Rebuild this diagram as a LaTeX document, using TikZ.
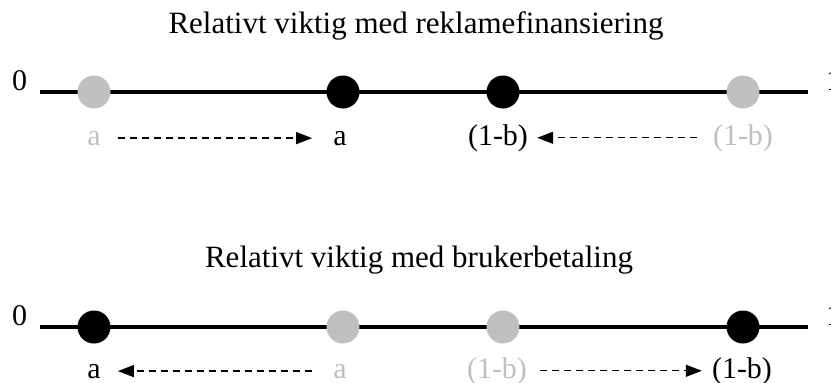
\documentclass[tikz,border=0pt]{standalone}
\usepackage{fontspec}
\setmainfont{Liberation Serif}
\usetikzlibrary{arrows.meta}
\definecolor{lgray}{RGB}{192,192,192}
\begin{document}
\begin{tikzpicture}[x=1pt,y=-1pt,
  axis/.style={line width=4pt},
  dotblack/.style={circle,fill=black,minimum size=33pt,inner sep=0pt},
  dotgray/.style={circle,fill=lgray,minimum size=33pt,inner sep=0pt},
  lab/.style={anchor=base,inner sep=0pt,font=\fontsize{30}{36}\selectfont},
  glab/.style={lab,text=lgray},
  ttl/.style={anchor=base,inner sep=0pt,font=\fontsize{31}{37}\selectfont},
  mv/.style={line width=1.3pt,dash pattern=on 7pt off 5pt,-{Triangle[length=16pt,width=12pt]}}
]
\useasboundingbox (0,0) rectangle (831,383);
% ---- top
\node[ttl] (t1) at (416,33) {Relativt viktig med reklamefinansiering};
\node[lab,anchor=base west] (z1) at (12,90) {0};
\node[lab,anchor=base west] (o1) at (826,90) {1};
\coordinate (l1s) at (40,92);
\coordinate (l1e) at (808,92);
\draw[axis] (l1s) -- (l1e);
\node[dotgray] (c11) at (94,92) {};
\node[dotblack] (c12) at (343,92) {};
\node[dotblack] (c13) at (503,92) {};
\node[dotgray] (c14) at (743,92) {};
\node[glab] (a1g) at (94,145) {a};
\node[lab] (a1b) at (340,145) {a};
\node[lab] (b1b) at (498,145) {(1-b)};
\node[glab] (b1g) at (743,145) {(1-b)};
\draw[mv,shorten <=17pt,shorten >=21pt] (a1g.east) -- (a1b.west);
\draw[mv,shorten <=16pt,shorten >=9pt] (b1g.west) -- (b1b.east);
% ---- bottom
\node[ttl] (t2) at (419,267) {Relativt viktig med brukerbetaling};
\node[lab,anchor=base west] (z2) at (12,325) {0};
\node[lab,anchor=base west] (o2) at (826,325) {1};
\coordinate (l2s) at (40,327);
\coordinate (l2e) at (808,327);
\draw[axis] (l2s) -- (l2e);
\node[dotblack] (c21) at (94,327) {};
\node[dotgray] (c22) at (343,327) {};
\node[dotgray] (c23) at (503,327) {};
\node[dotblack] (c24) at (743,327) {};
\node[lab] (a2b) at (94,378) {a};
\node[glab] (a2g) at (340,378) {a};
\node[glab] (b2g) at (497,378) {(1-b)};
\node[lab] (b2b) at (742,378) {(1-b)};
\draw[mv,shorten <=21pt,shorten >=17pt] (a2g.west) -- (a2b.east);
\draw[mv,shorten <=13pt,shorten >=10pt] (b2g.east) -- (b2b.west);
\end{tikzpicture}
\end{document}
